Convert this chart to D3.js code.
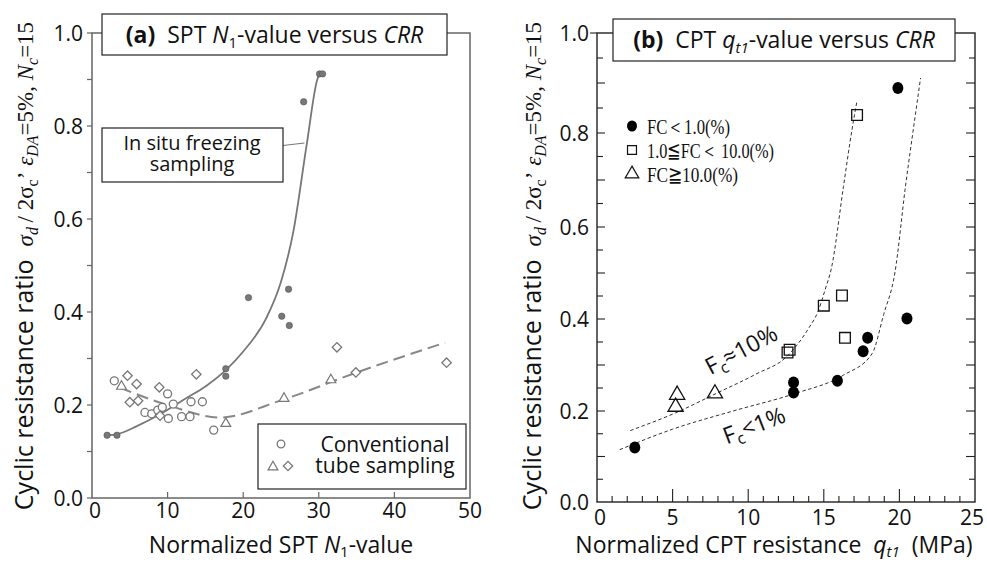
<!DOCTYPE html>
<html>
<head>
<meta charset="utf-8">
<script src="https://cdn.jsdelivr.net/npm/d3@7"></script>
<style>
body{margin:0;background:#fff;}
text{font-family:"Open Sans","Noto Sans",sans-serif;fill:#111;}
.serif{font-family:"Liberation Serif","DejaVu Serif",serif;}
</style>
</head>
<body>
<svg id="chart" width="987" height="564"></svg>
<script>
// ---- panel (a): SPT N1 vs CRR ----
var freezeN1  = [2.0, 3.3, 17.7, 17.7, 20.7, 25.1, 26.0, 26.1, 28.0, 30.1, 30.5];
var freezeCRR = [0.135, 0.135, 0.278, 0.262, 0.431, 0.391, 0.449, 0.371, 0.852, 0.912, 0.912];
var circleN1  = [2.95, 7.0, 7.9, 8.7, 9.3, 10.0, 10.1, 10.75, 11.85, 12.96, 13.1, 14.6, 16.1];
var circleCRR = [0.252, 0.184, 0.181, 0.189, 0.195, 0.224, 0.171, 0.202, 0.175, 0.175, 0.207, 0.207, 0.146];
var diamondN1  = [4.7, 5.9, 5.0, 6.1, 8.9, 9.0, 13.8, 32.4, 34.9, 46.9];
var diamondCRR = [0.263, 0.245, 0.206, 0.209, 0.238, 0.177, 0.266, 0.324, 0.270, 0.291];
var triN1  = [3.9, 17.7, 25.4, 31.6];
var triCRR = [0.24, 0.16, 0.214, 0.254];
var freezeCurveN1  = [2, 3.3, 6, 9, 12.5, 15, 17.7, 20, 23, 25, 26.6, 28.4, 29.8, 30.2];
var freezeCurveCRR = [0.135, 0.137, 0.155, 0.18, 0.215, 0.24, 0.275, 0.315, 0.385, 0.465, 0.57, 0.76, 0.9, 0.915];
var tubeCurveN1  = [3.7, 10, 16.9, 25, 35, 46.7];
var tubeCurveCRR = [0.237, 0.2, 0.173, 0.21, 0.27, 0.334];

// ---- panel (b): CPT qt1 vs CRR ----
var fcLowQ    = [2.5, 13.0, 13.0, 15.9, 17.6, 17.9, 20.5, 19.9];
var fcLowCRR  = [0.12, 0.262, 0.240, 0.266, 0.330, 0.359, 0.401, 0.89];
var fcMidQ    = [17.2, 15.0, 16.2, 16.4, 12.6, 12.74];
var fcMidCRR  = [0.836, 0.429, 0.451, 0.359, 0.327, 0.333];
var fcHighQ   = [5.3, 5.2, 7.8];
var fcHighCRR = [0.235, 0.209, 0.238];
var curve10Q   = [2.2, 5.2, 8, 10.5, 12.6, 14, 14.6, 15.1, 15.5, 16.3, 16.86, 17.2];
var curve10CRR = [0.157, 0.196, 0.24, 0.28, 0.32, 0.38, 0.415, 0.465, 0.51, 0.686, 0.806, 0.865];
var curve1Q    = [1.5, 5, 9, 13.1, 16.3, 18.2, 18.96, 19.7, 20.4, 21.05, 21.4];
var curve1CRR  = [0.115, 0.16, 0.2, 0.238, 0.278, 0.325, 0.41, 0.5, 0.686, 0.835, 0.91];

var yTicks = [0, 0.2, 0.4, 0.6, 0.8, 1.0];
var xTicksA = [0, 10, 20, 30, 40, 50];
var xTicksB = [0, 5, 10, 15, 20, 25];

var svg = d3.select("#chart");
function zip(xs, ys){ return xs.map(function(x, i){ return [x, ys[i]]; }); }

// ================= panel (a) =================
var xa = d3.scaleLinear().domain([0, 50]).range([92, 470]);
var ya = d3.scaleLinear().domain([0, 1]).range([498, 33]);
var ga = svg.append("g");
var grayA = "#666";

// frame
ga.append("rect").attr("x", 92).attr("y", 33).attr("width", 378).attr("height", 465)
	.attr("fill", "none").attr("stroke", grayA).attr("stroke-width", 1.5);

// y ticks outward every 0.1
ga.selectAll(".yta").data(d3.range(0, 1.01, 0.1)).enter().append("line")
	.attr("x1", 87).attr("x2", 92).attr("y1", d => ya(d)).attr("y2", d => ya(d))
	.attr("stroke", grayA).attr("stroke-width", 1.2);
// x ticks inward
ga.selectAll(".xta").data(xTicksA.slice(1, -1)).enter().append("line")
	.attr("x1", d => xa(d)).attr("x2", d => xa(d)).attr("y1", 498).attr("y2", 492)
	.attr("stroke", grayA).attr("stroke-width", 1.2);

ga.selectAll(".ylab").data(yTicks).enter().append("text")
	.attr("x", 83).attr("y", d => ya(d)).attr("dy", "0.36em")
	.attr("text-anchor", "end").style("font-size", "21px")
	.text(d => d.toFixed(1));
ga.selectAll(".xlab").data(xTicksA).enter().append("text")
	.attr("x", d => xa(d) + (d === 0 ? 3 : 0)).attr("y", 518)
	.attr("text-anchor", "middle").style("font-size", "21px")
	.text(d => d);

var lineA = d3.line().x(d => xa(d[0])).y(d => ya(d[1])).curve(d3.curveMonotoneX);
ga.append("path").attr("d", lineA(zip(freezeCurveN1, freezeCurveCRR)))
	.attr("fill", "none").attr("stroke", "#777").attr("stroke-width", 1.8);
ga.append("path").attr("d", lineA(zip(tubeCurveN1, tubeCurveCRR)))
	.attr("fill", "none").attr("stroke", "#888").attr("stroke-width", 2).attr("stroke-dasharray", "12,6");

// markers
ga.selectAll(".fz").data(zip(freezeN1, freezeCRR)).enter().append("circle")
	.attr("cx", d => xa(d[0])).attr("cy", d => ya(d[1])).attr("r", 3.2)
	.attr("fill", "#777").attr("stroke", "#555").attr("stroke-width", 0.6);
ga.selectAll(".ci").data(zip(circleN1, circleCRR)).enter().append("circle")
	.attr("cx", d => xa(d[0])).attr("cy", d => ya(d[1])).attr("r", 4)
	.attr("fill", "#fff").attr("stroke", "#777").attr("stroke-width", 1.3);
var sqA = d3.symbol().type(d3.symbolSquare).size(44);
ga.selectAll(".di").data(zip(diamondN1, diamondCRR)).enter().append("path")
	.attr("d", sqA).attr("transform", d => "translate(" + xa(d[0]) + "," + ya(d[1]) + ") rotate(45)")
	.attr("fill", "#fff").attr("stroke", "#777").attr("stroke-width", 1.3);
var triA = d3.symbol().type(d3.symbolTriangle).size(42);
ga.selectAll(".tr").data(zip(triN1, triCRR)).enter().append("path")
	.attr("d", triA).attr("transform", d => "translate(" + xa(d[0]) + "," + ya(d[1]) + ")")
	.attr("fill", "#fff").attr("stroke", "#777").attr("stroke-width", 1.2);

// title box (a)
ga.append("rect").attr("x", 102).attr("y", 14).attr("width", 345).attr("height", 41)
	.attr("fill", "#fff").attr("stroke", "#222").attr("stroke-width", 1.2);
var ta = ga.append("text").attr("x", 274.5).attr("y", 43).attr("text-anchor", "middle").style("font-size", "23px");
ta.append("tspan").style("font-weight", "bold").text("(a)");
ta.append("tspan").text("\u00a0\u00a0SPT ");
ta.append("tspan").style("font-style", "italic").text("N");
ta.append("tspan").attr("dy", 5).style("font-size", "15px").text("1");
ta.append("tspan").attr("dy", -5).text("-value versus ");
ta.append("tspan").style("font-style", "italic").text("CRR");

// in situ freezing box + leader
ga.append("line").attr("x1", 283).attr("y1", 145.5).attr("x2", xa(28.1)).attr("y2", 143)
	.attr("stroke", "#777").attr("stroke-width", 1.2);
ga.append("rect").attr("x", 102).attr("y", 128).attr("width", 181).attr("height", 54)
	.attr("fill", "#fff").attr("stroke", "#222").attr("stroke-width", 1.2);
var fzLab = ga.append("text").attr("text-anchor", "middle").style("font-size", "20px");
fzLab.append("tspan").attr("x", 192).attr("y", 150).text("In situ freezing");
fzLab.append("tspan").attr("x", 192).attr("y", 171).text("sampling");

// legend box (a)
ga.append("rect").attr("x", 258).attr("y", 424).attr("width", 208).attr("height", 65)
	.attr("fill", "#fff").attr("stroke", "#222").attr("stroke-width", 1.2);
ga.append("circle").attr("cx", 281).attr("cy", 444).attr("r", 3.8)
	.attr("fill", "#fff").attr("stroke", "#777").attr("stroke-width", 1.3);
ga.append("path").attr("d", triA).attr("transform", "translate(273,467)")
	.attr("fill", "#fff").attr("stroke", "#777").attr("stroke-width", 1.2);
ga.append("path").attr("d", sqA).attr("transform", "translate(288,466) rotate(45)")
	.attr("fill", "#fff").attr("stroke", "#777").attr("stroke-width", 1.3);
var legA = ga.append("text").attr("text-anchor", "middle").style("font-size", "21px");
legA.append("tspan").attr("x", 385).attr("y", 452).text("Conventional");
legA.append("tspan").attr("x", 385).attr("y", 473).text("tube sampling");

// x title (a)
var xta = ga.append("text").attr("x", 281).attr("y", 553).attr("text-anchor", "middle").style("font-size", "23px");
xta.append("tspan").text("Normalized SPT ");
xta.append("tspan").style("font-style", "italic").text("N");
xta.append("tspan").attr("dy", 4).style("font-size", "15px").text("1");
xta.append("tspan").attr("dy", -4).text("-value");

// y title (shared builder)
function yTitle(g, x, y){
	var t = g.append("text").attr("transform", "translate(" + x + "," + y + ") rotate(-90)")
		.attr("text-anchor", "middle");
	t.append("tspan").style("font-size", "25px").text("Cyclic resistance ratio\u00a0\u00a0");
	function s(txt, opt){
		var sp = t.append("tspan").attr("class", "serif").style("font-size", (opt && opt.size) || "23px").text(txt);
		if(opt && opt.it) sp.style("font-style", "italic");
		if(opt && opt.dy) sp.attr("dy", opt.dy);
		return sp;
	}
	s("\u03c3", {it: 1});
	s("d", {it: 1, size: "16px", dy: 5});
	s("\u2009/ 2\u03c3", {dy: -5});
	s("c", {size: "16px", dy: 5});
	s("\u2019\u00a0", {dy: -5});
	s("\u03b5", {it: 1});
	s("DA", {it: 1, size: "16px", dy: 5});
	s("=5%, ", {dy: -5});
	s("N", {it: 1});
	s("c", {it: 1, size: "16px", dy: 5});
	s("=15", {dy: -5});
}
yTitle(ga, 33, 266);

// ================= panel (b) =================
var xb = d3.scaleLinear().domain([0, 25]).range([597, 975]);
var yb = d3.scaleLinear().domain([0, 0.2, 0.4, 0.6, 0.8, 1.0]).range([502, 411, 319, 227, 133, 33]);
var gb = svg.append("g");
var ink = "#222";

gb.append("rect").attr("x", 597).attr("y", 33).attr("width", 378).attr("height", 469)
	.attr("fill", "none").attr("stroke", ink).attr("stroke-width", 1.4);

var yMinor = d3.range(0.05, 1.0, 0.05);
gb.selectAll(".ytl").data(yMinor).enter().append("line")
	.attr("x1", 597).attr("x2", d => 597 + (Math.round(d * 20) % 2 === 0 ? 8 : 6))
	.attr("y1", d => yb(d)).attr("y2", d => yb(d)).attr("stroke", ink).attr("stroke-width", 1.1);
gb.selectAll(".ytr").data(yMinor).enter().append("line")
	.attr("x1", 975).attr("x2", d => 975 - (Math.round(d * 20) % 2 === 0 ? 9 : 6))
	.attr("y1", d => yb(d)).attr("y2", d => yb(d)).attr("stroke", ink).attr("stroke-width", 1.1);
gb.append("line").attr("x1", 590).attr("x2", 597).attr("y1", yb(1)).attr("y2", yb(1)).attr("stroke", ink).attr("stroke-width", 1.1);
gb.selectAll(".xtb").data(d3.range(1, 25)).enter().append("line")
	.attr("x1", d => xb(d)).attr("x2", d => xb(d)).attr("y1", 502).attr("y2", d => d % 5 === 0 ? 489 : 496)
	.attr("stroke", ink).attr("stroke-width", 1.1);

gb.selectAll(".ylab").data(yTicks).enter().append("text")
	.attr("x", 589).attr("y", d => yb(d)).attr("dy", "0.36em")
	.attr("text-anchor", "end").style("font-size", "21px")
	.text(d => d.toFixed(1));
gb.selectAll(".xlab").data(xTicksB).enter().append("text")
	.attr("x", d => xb(d) + (d === 0 ? 3 : d === 25 ? -3 : 0)).attr("y", 525)
	.attr("text-anchor", "middle").style("font-size", "21px")
	.text(d => d);

var lineB = d3.line().x(d => xb(d[0])).y(d => yb(d[1])).curve(d3.curveMonotoneX);
gb.append("path").attr("d", lineB(zip(curve10Q, curve10CRR)))
	.attr("fill", "none").attr("stroke", "#333").attr("stroke-width", 1).attr("stroke-dasharray", "3.5,2.5");
gb.append("path").attr("d", lineB(zip(curve1Q, curve1CRR)))
	.attr("fill", "none").attr("stroke", "#333").attr("stroke-width", 1).attr("stroke-dasharray", "3.5,2.5");

gb.selectAll(".lo").data(zip(fcLowQ, fcLowCRR)).enter().append("ellipse")
	.attr("cx", d => xb(d[0])).attr("cy", d => yb(d[1])).attr("rx", 5.5).attr("ry", 6).attr("fill", "#000");
var sqB = d3.symbol().type(d3.symbolSquare).size(115);
gb.selectAll(".mid").data(zip(fcMidQ, fcMidCRR)).enter().append("path")
	.attr("d", sqB).attr("transform", d => "translate(" + xb(d[0]) + "," + yb(d[1]) + ")")
	.attr("fill", "none").attr("stroke", "#111").attr("stroke-width", 1.3);
var triB = d3.symbol().type(d3.symbolTriangle).size(100);
gb.selectAll(".hi").data(zip(fcHighQ, fcHighCRR)).enter().append("path")
	.attr("d", triB).attr("transform", d => "translate(" + xb(d[0]) + "," + yb(d[1]) + ")")
	.attr("fill", "none").attr("stroke", "#111").attr("stroke-width", 1.3);

// legend (b)
gb.append("ellipse").attr("cx", 632).attr("cy", 126).attr("rx", 5).attr("ry", 5.5).attr("fill", "#000");
gb.append("path").attr("d", d3.symbol().type(d3.symbolSquare).size(80)).attr("transform", "translate(632,150)")
	.attr("fill", "none").attr("stroke", "#111").attr("stroke-width", 1.2);
gb.append("path").attr("d", d3.symbol().type(d3.symbolTriangle).size(80)).attr("transform", "translate(632,174)")
	.attr("fill", "none").attr("stroke", "#111").attr("stroke-width", 1.2);
var legB = [["FC\uff1c1.0(%)", 134, 83], ["1.0\u2266FC\uff1c 10.0(%)", 158, 127], ["FC\u226710.0(%)", 182, 91]];
gb.selectAll(".lg").data(legB).enter().append("text").attr("class", "serif")
	.attr("x", 647).attr("y", d => d[1]).attr("textLength", d => d[2]).attr("lengthAdjust", "spacingAndGlyphs")
	.style("font-size", "22px").text(d => d[0]);

// curve annotations
var a1 = gb.append("text").attr("transform", "translate(745,357) rotate(-28)").attr("text-anchor", "middle").style("font-size", "23px");
a1.append("tspan").text("F");
a1.append("tspan").attr("dy", 5).style("font-size", "16px").text("c");
a1.append("tspan").attr("dy", -5).text("\u224810%");
var a2 = gb.append("text").attr("transform", "translate(757,433) rotate(-21)").attr("text-anchor", "middle").style("font-size", "23px");
a2.append("tspan").text("F");
a2.append("tspan").attr("dy", 5).style("font-size", "16px").text("c");
a2.append("tspan").attr("dy", -5).text("<1%");

// title box (b)
gb.append("rect").attr("x", 613).attr("y", 19).attr("width", 342).attr("height", 42)
	.attr("fill", "#fff").attr("stroke", "#222").attr("stroke-width", 1.2);
var tb = gb.append("text").attr("x", 784).attr("y", 48).attr("text-anchor", "middle").style("font-size", "23px");
tb.append("tspan").style("font-weight", "bold").text("(b)");
tb.append("tspan").text("\u00a0\u00a0CPT ");
tb.append("tspan").style("font-style", "italic").text("q");
tb.append("tspan").attr("dy", 5).style("font-size", "15px").style("font-style", "italic").text("t1");
tb.append("tspan").attr("dy", -5).text("-value versus ");
tb.append("tspan").style("font-style", "italic").text("CRR");

// x title (b)
var xtb = gb.append("text").attr("x", 774).attr("y", 553).attr("text-anchor", "middle").style("font-size", "23px");
xtb.append("tspan").text("Normalized CPT resistance\u00a0\u00a0");
xtb.append("tspan").style("font-style", "italic").text("q");
xtb.append("tspan").attr("dy", 4).style("font-size", "15px").style("font-style", "italic").text("t1");
xtb.append("tspan").attr("dy", -4).text("\u00a0\u00a0(MPa)");

yTitle(gb, 541, 266);
</script>
</body>
</html>
